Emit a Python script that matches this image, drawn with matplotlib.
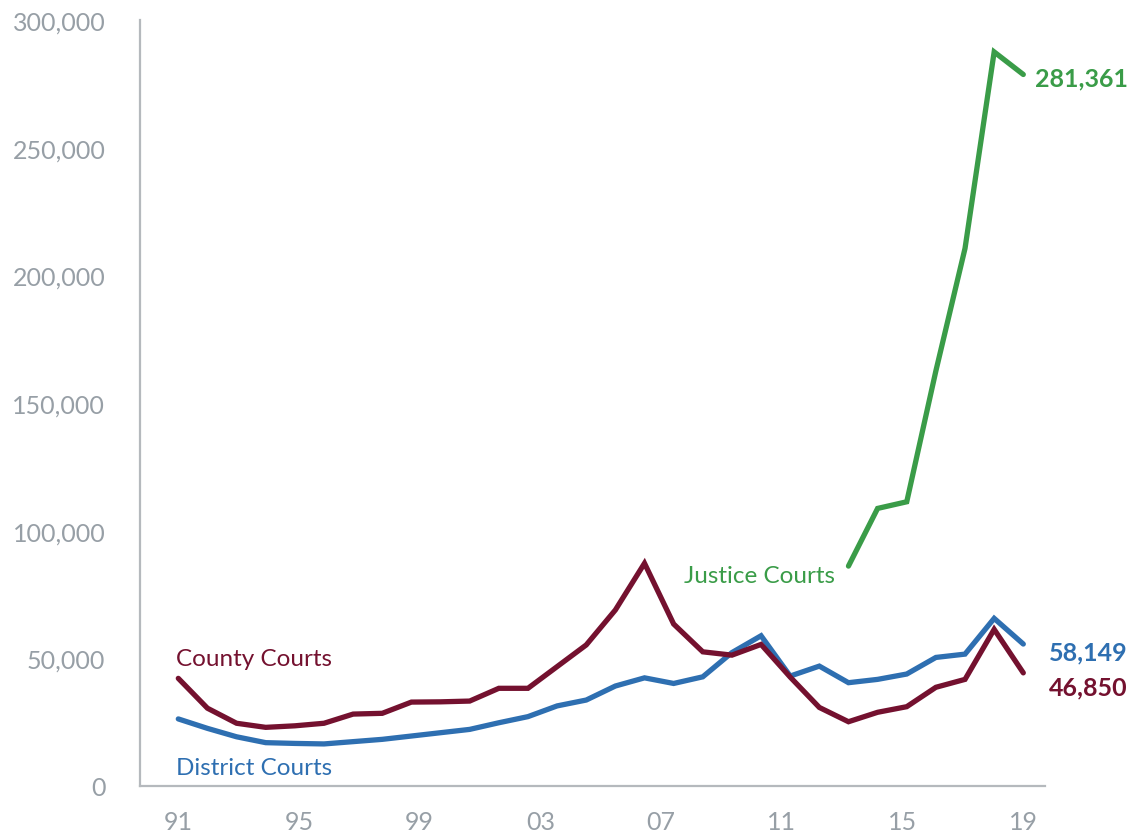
import numpy as np
import matplotlib
matplotlib.use("Agg")
import matplotlib.pyplot as plt
from matplotlib.ticker import FuncFormatter
from matplotlib.transforms import ScaledTranslation

# Case counts (30 annual points, first label 91, last 19)
county = [44700, 33000, 27100, 25500, 26100, 27100, 30700, 31000, 35400, 35500,
          35800, 40800, 40800, 49300, 57800, 71500, 89800, 66000, 55100, 53800,
          58000, 45200, 33300, 27700, 31400, 33600, 41200, 44300, 63900, 46850]
district = [28800, 25100, 21800, 19500, 19200, 19000, 19900, 20800, 22100, 23400,
            24700, 27300, 29700, 33900, 36200, 41700, 44900, 42700, 45300, 54800,
            61400, 45600, 49500, 43000, 44300, 46400, 52900, 54200, 68200, 58149]
# Justice Courts only reported for the last seven points
justice = [88700, 111300, 113900, 165200, 213200, 290200, 281361]

tick_years = [1991, 1995, 1999, 2003, 2007, 2011, 2015, 2019]
tick_labels = ["91", "95", "99", "03", "07", "11", "15", "19"]
y_ticks = [0, 50000, 100000, 150000, 200000, 250000, 300000]

C_COUNTY = "#74112f"
C_DISTRICT = "#2e6fb1"
C_JUSTICE = "#3a9c48"
C_GRAY = "#979fa6"
C_AXIS = "#b5b9bd"

plt.rcParams["font.family"] = ["Lato", "DejaVu Sans"]

# evenly spread the points between the first and last tick year
x = np.linspace(tick_years[0], tick_years[-1], len(county))
x_justice = x[-len(justice):]

fig = plt.figure(figsize=(11.38, 8.35), dpi=100)
ax = fig.add_axes([0.123, 0.051, 0.7953, 0.925])

line_kw = dict(lw=3.8, solid_capstyle="round", solid_joinstyle="miter")
ax.plot(x, district, color=C_DISTRICT, **line_kw)
ax.plot(x, county, color=C_COUNTY, **line_kw)
ax.plot(x_justice, justice, color=C_JUSTICE, **line_kw)

ax.set_xlim(1989.73, 2019.72)
ax.set_ylim(0, 302700)

ax.set_xticks(tick_years)
ax.set_xticklabels(tick_labels)
ax.set_yticks(y_ticks)
ax.yaxis.set_major_formatter(FuncFormatter(lambda v, p: f"{int(v):,}"))
ax.tick_params(axis="both", length=0, labelsize=18, labelcolor=C_GRAY)
ax.tick_params(axis="x", pad=18)
ax.tick_params(axis="y", pad=25)

# the y labels sit a few pixels above their gridline value in the original
shift = ScaledTranslation(0, 4 / 72, fig.dpi_scale_trans)
for lab in ax.get_yticklabels():
    lab.set_transform(lab.get_transform() + shift)

for s in ["top", "right"]:
    ax.spines[s].set_visible(False)
ax.spines["bottom"].set_position(("data", 2500))
ax.spines["left"].set_bounds(2500, 302700)
for s in ["bottom", "left"]:
    ax.spines[s].set_color(C_AXIS)
    ax.spines[s].set_linewidth(1.6)

# series names
ax.text(1990.92, 49500, "County Courts", color=C_COUNTY, fontsize=17.5,
        ha="left", va="baseline")
ax.text(1990.92, 6800, "District Courts", color=C_DISTRICT, fontsize=17.5,
        ha="left", va="baseline")
ax.text(2012.76, 82100, "Justice Courts", color=C_JUSTICE, fontsize=17.5,
        ha="right", va="baseline")

# final values
ax.text(2022.47, 276800, f"{justice[-1]:,}", color=C_JUSTICE, fontsize=18,
        fontweight="bold", ha="right", va="baseline", clip_on=False)
ax.text(2022.47, 51900, f"{district[-1]:,}", color=C_DISTRICT, fontsize=18,
        fontweight="bold", ha="right", va="baseline", clip_on=False)
ax.text(2022.47, 38200, f"{county[-1]:,}", color=C_COUNTY, fontsize=18,
        fontweight="bold", ha="right", va="baseline", clip_on=False)

fig.savefig("out.png", dpi=100)
